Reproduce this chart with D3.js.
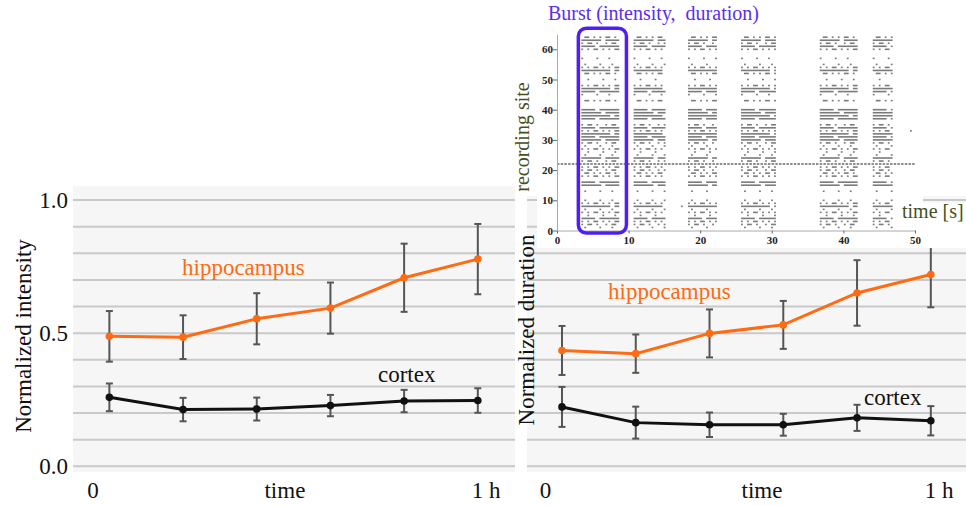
<!DOCTYPE html>
<html><head><meta charset="utf-8">
<script src="https://cdn.jsdelivr.net/npm/d3@7"></script>
<style>
body{margin:0;background:#fff}
svg{display:block}
text{font-family:"Liberation Serif","Times New Roman","DejaVu Serif",serif}
</style>
</head><body>
<svg id="c" width="966" height="506"></svg>
<script>
// ---------- data ----------
const timesMin = [2.5, 13.75, 25, 36.25, 47.5, 58.75];
const intensityHippo    = [0.488, 0.485, 0.554, 0.594, 0.708, 0.778];
const intensityHippoErr = [0.095, 0.082, 0.096, 0.096, 0.128, 0.132];
const intensityCortex    = [0.259, 0.213, 0.215, 0.228, 0.245, 0.247];
const intensityCortexErr = [0.052, 0.044, 0.043, 0.040, 0.042, 0.046];
const durationHippo    = [0.435, 0.423, 0.499, 0.531, 0.651, 0.720];
const durationHippoErr = [0.092, 0.072, 0.090, 0.090, 0.123, 0.123];
const durationCortex    = [0.223, 0.164, 0.156, 0.156, 0.182, 0.171];
const durationCortexErr = [0.075, 0.060, 0.046, 0.041, 0.049, 0.055];
const yTickValues = [0, 0.5, 1.0];
const yTickLabels = ["0.0", "0.5", "1.0"];
const xTickValues = [0, 60];
const xTickLabels = ["0", "1 h"];

// raster inset (recording site vs time [s])
const burstWindows = [[3.4, 9.0], [10.7, 15.5], [18.3, 22.5], [25.7, 30.9], [36.7, 42.3], [44.1, 46.9]];
// activity class per channel, channel 0 first (' ' none, '.' sparse, ':' medium, '#' dense)
const channelActivity = [
  " .::#.:.#:",
  ".  . ## ::",
  ":: :#..:.:",
  "###:#: ###",
  "#  : .##: ",
  ". :#:. .  ",
  ":#:#:"
].join("");
const spikePatterns = {
  "#": ["11111110111111", "11111011111110", "11111111110111"],
  ":": ["10101101010110", "01101010110101", "10110100101101"],
  ".": ["10000100010000", "01000010001000", "00100001000100"]
};
const tonicChannel = 22;
const tonicRange = [0, 50];
const straySpikes = [[49.3, 33], [17.3, 8]];
const rasterXTicks = [0, 10, 20, 30, 40, 50];
const rasterYTicks = [0, 10, 20, 30, 40, 50, 60];

// ---------- drawing ----------
const svg = d3.select("#c");
const SERIF = "'Liberation Serif','Times New Roman','DejaVu Serif',serif";
const orange = "#ff6a13";
const yS = d3.scaleLinear().domain([0, 1]).range([466.3, 200]);

const panels = [
  {bx0: 73, bx1: 515, by0: 186, xr: [93, 486],
   hip: intensityHippo, hipE: intensityHippoErr, cor: intensityCortex, corE: intensityCortexErr,
   title: "Normalized intensity", tx: 23, ty: 336, hipLbl: [182, 275], corLbl: [378, 382],
   yLabels: true, timeAt: 29.3},
  {bx0: 527, bx1: 966, by0: 196, xr: [545.6, 939],
   hip: durationHippo, hipE: durationHippoErr, cor: durationCortex, corE: durationCortexErr,
   title: "Normalized duration", tx: 526, ty: 330, hipLbl: [608, 299], corLbl: [864, 405],
   yLabels: false, timeAt: 33}
];

panels.forEach(p => {
  const xS = d3.scaleLinear().domain([0, 60]).range(p.xr);
  const g = svg.append("g").attr("font-family", SERIF);
  g.append("rect").attr("x", p.bx0).attr("y", p.by0)
    .attr("width", p.bx1 - p.bx0).attr("height", 472 - p.by0).attr("fill", "#f6f6f6");
  g.selectAll("line.grid").data(yS.ticks(10)).enter().append("line")
    .attr("x1", p.bx0).attr("x2", p.bx1)
    .attr("y1", d => yS(d)).attr("y2", d => yS(d))
    .attr("stroke", "#c9c9c9").attr("stroke-width", 2);

  if (p.yLabels) {
    g.selectAll("text.yt").data(yTickValues).enter().append("text")
      .attr("font-family", SERIF)
      .attr("x", 68).attr("y", d => yS(d)).attr("dy", "0.35em")
      .attr("text-anchor", "end").attr("font-size", 23).attr("fill", "#111")
      .text((d, i) => yTickLabels[i]);
  }
  g.selectAll("text.xt").data(xTickValues).enter().append("text")
    .attr("font-family", SERIF)
    .attr("x", d => xS(d)).attr("y", 498).attr("text-anchor", "middle")
    .attr("font-size", 23).attr("fill", "#111").text((d, i) => xTickLabels[i]);
  g.append("text").attr("font-family", SERIF)
    .attr("x", xS(p.timeAt)).attr("y", 498).attr("text-anchor", "middle")
    .attr("font-size", 23).attr("fill", "#111").text("time");
  g.append("text").attr("font-family", SERIF)
    .attr("transform", `translate(${p.tx},${p.ty}) rotate(-90)`)
    .attr("text-anchor", "middle").attr("dominant-baseline", "central")
    .attr("font-size", 23).attr("fill", "#111").text(p.title);

  const series = [
    {v: p.hip, e: p.hipE, c: orange},
    {v: p.cor, e: p.corE, c: "#111"}
  ];
  series.forEach(s => {
    const pts = s.v.map((v, i) => ({x: xS(timesMin[i]), y: v, e: s.e[i]}));
    const eb = g.append("g");
    pts.forEach(d => {
      eb.append("line").attr("x1", d.x).attr("x2", d.x)
        .attr("y1", yS(d.y + d.e)).attr("y2", yS(d.y - d.e))
        .attr("stroke", "#555").attr("stroke-width", 2);
      [d.y + d.e, d.y - d.e].forEach(c => eb.append("line")
        .attr("x1", d.x - 3.5).attr("x2", d.x + 3.5).attr("y1", yS(c)).attr("y2", yS(c))
        .attr("stroke", "#555").attr("stroke-width", 2));
    });
    g.append("path").datum(pts)
      .attr("d", d3.line().x(d => d.x).y(d => yS(d.y)))
      .attr("fill", "none").attr("stroke", s.c).attr("stroke-width", 3);
    g.selectAll(null).data(pts).enter().append("circle")
      .attr("cx", d => d.x).attr("cy", d => yS(d.y)).attr("r", 3.8).attr("fill", s.c);
  });
  g.append("text").attr("font-family", SERIF).attr("x", p.hipLbl[0]).attr("y", p.hipLbl[1])
    .attr("font-size", 23).attr("fill", orange).text("hippocampus");
  g.append("text").attr("font-family", SERIF).attr("x", p.corLbl[0]).attr("y", p.corLbl[1])
    .attr("font-size", 23).attr("fill", "#111").text("cortex");
});

// ---------- raster inset ----------
const inset = svg.append("g");
inset.append("rect").attr("x", 537).attr("y", 0).attr("width", 386).attr("height", 248).attr("fill", "#fff");
inset.append("rect").attr("x", 923).attr("y", 203).attr("width", 43).attr("height", 45).attr("fill", "#fff");

const xs = d3.scaleLinear().domain([0, 50]).range([557, 915]);
const ys = d3.scaleLinear().domain([0, 65]).range([230.5, 34.2]);
const binSec = 0.42;

// spike runs: consecutive active bins merged into one dash
const runs = [];
burstWindows.forEach(([t0, t1]) => {
  const n = Math.round((t1 - t0) / binSec);
  channelActivity.split("").forEach((cls, ch) => {
    if (!spikePatterns[cls]) return;
    const pat = spikePatterns[cls][ch % 3];
    let i = 0;
    while (i < n) {
      if (pat[i % pat.length] === "1") {
        let j = i;
        while (j + 1 < n && pat[(j + 1) % pat.length] === "1") j++;
        runs.push({t: t0 + i * binSec, len: j - i + 1, ch});
        i = j + 1;
      } else i++;
    }
  });
});
straySpikes.forEach(([t, ch]) => runs.push({t, len: 1, ch}));

const binPx = xs(binSec) - xs(0);
inset.selectAll("rect.sp").data(runs).enter().append("rect")
  .attr("x", d => xs(d.t)).attr("y", d => ys(d.ch) - 0.8)
  .attr("width", d => d.len * binPx - 1.2).attr("height", 1.6)
  .attr("fill", "#5a5a5a").attr("opacity", 0.8);

inset.append("line")
  .attr("x1", xs(tonicRange[0])).attr("x2", xs(tonicRange[1]))
  .attr("y1", ys(tonicChannel)).attr("y2", ys(tonicChannel))
  .attr("stroke", "#6a6a6a").attr("stroke-width", 1.6).attr("stroke-dasharray", "2.5,1.2");

const xAx = inset.append("g").attr("transform", `translate(0,${ys(0)})`)
  .call(d3.axisBottom(xs).tickValues(rasterXTicks).tickSize(3).tickSizeOuter(0));
const yAx = inset.append("g").attr("transform", `translate(${xs(0)},0)`)
  .call(d3.axisLeft(ys).tickValues(rasterYTicks).tickSize(4).tickSizeOuter(0));
[xAx, yAx].forEach(a => {
  a.select(".domain").attr("stroke", "#aaa");
  a.selectAll(".tick line").attr("stroke", "#666");
  a.selectAll("text").attr("font-family", "'Liberation Sans',Arial,sans-serif")
    .attr("font-weight", "bold").attr("font-size", 11).attr("fill", "#222");
});
yAx.selectAll("text").attr("x", -4);

// highlight box around first burst
inset.append("rect")
  .attr("x", xs(burstWindows[0][0]) - 3).attr("y", ys(67))
  .attr("width", xs(burstWindows[0][1]) - xs(burstWindows[0][0]) + 8)
  .attr("height", ys(0) + 2.5 - ys(67))
  .attr("rx", 8).attr("fill", "none").attr("stroke", "#4f1ff2").attr("stroke-width", 3.5);

inset.append("text").attr("font-family", SERIF).attr("x", 548).attr("y", 20).attr("font-size", 20)
  .attr("fill", "#5a2ef0").attr("xml:space", "preserve").text("Burst (intensity,  duration)");
inset.append("text").attr("font-family", SERIF).attr("transform", "translate(522,137) rotate(-90)")
  .attr("text-anchor", "middle").attr("dominant-baseline", "central")
  .attr("font-size", 20).attr("fill", "#46501c").text("recording site");
inset.append("text").attr("font-family", SERIF).attr("x", 902).attr("y", 218).attr("font-size", 20)
  .attr("fill", "#46501c").text("time [s]");
</script>
</body></html>
